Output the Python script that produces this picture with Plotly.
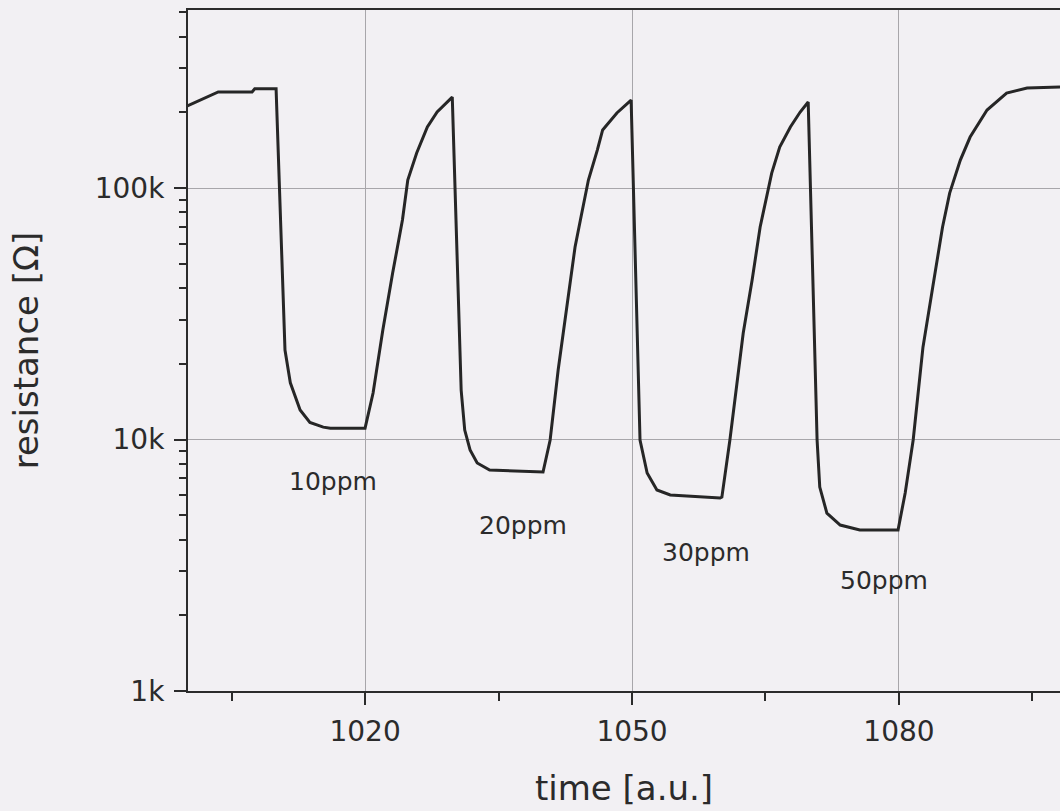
import math
import plotly.graph_objects as go

# time axis values [a.u.]
time = [1000.0, 1003.5, 1007.3, 1007.6, 1010.0,
        1011.0, 1011.6, 1012.7, 1013.8, 1015.3, 1016.1, 1020.0,
        1020.9, 1022.0, 1023.1, 1024.2, 1024.8, 1025.8, 1027.0, 1028.1, 1029.8,
        1030.8, 1031.2, 1031.8, 1032.6, 1034.0, 1040.0,
        1040.8, 1041.7, 1042.7, 1043.6, 1044.2, 1045.1, 1046.1, 1046.7, 1048.3, 1049.9,
        1050.9, 1051.7, 1052.8, 1054.3, 1059.9,
        1060.1, 1061.0, 1061.8, 1062.5, 1063.5, 1064.4, 1065.7, 1066.6, 1067.8, 1068.9, 1069.8,
        1070.8, 1071.1, 1071.9, 1073.4, 1075.6, 1079.9,
        1080.7, 1081.6, 1082.7, 1083.8, 1084.9, 1085.7, 1086.9, 1088.0, 1089.9, 1092.1, 1094.4, 1098.1]

# resistance values [Ohm]
resistance = [212000, 241000, 241000, 248000, 248000,
              22700, 16800, 13100, 11700, 11200, 11100, 11100,
              15300, 27300, 45900, 74600, 107600, 137800, 174900, 200600, 230000,
              15700, 10900, 9090, 8070, 7560, 7430,
              9960, 18900, 33600, 58300, 74600, 107600, 141600, 170200, 198800, 223900,
              9960, 7360, 6300, 6020, 5850,
              5900, 9960, 17200, 26500, 43100, 70000, 114700, 145600, 174900, 200600, 219800,
              9960, 6470, 5100, 4570, 4370, 4370,
              6130, 9960, 23300, 40400, 70000, 95500, 129200, 159500, 204200, 238700, 249900, 252200]

# concentration labels
labels = ["10ppm", "20ppm", "30ppm", "50ppm"]
label_time = [1016.4, 1037.7, 1058.3, 1078.3]
label_res = [6780, 4570, 3540, 2760]

# axis ticks
x_ticks = [1020, 1050, 1080]
x_minor = [1005, 1035, 1065, 1095]
y_ticks = [1e3, 1e4, 1e5]
y_ticktext = ["1k", "10k", "100k"]
y_minor = [m * 10 ** d for d in (3, 4, 5) for m in range(2, 10)]

FONT = "DejaVu Sans"
TXT = "#2b2b2b"
BG = "#f2f0f3"

fig = go.Figure()
fig.add_trace(go.Scatter(x=time, y=resistance, mode="lines",
                         line=dict(color="#262626", width=3),
                         showlegend=False, hoverinfo="skip"))

for lab, t, r in zip(labels, label_time, label_res):
    fig.add_annotation(x=t, y=math.log10(r), text=lab, showarrow=False,
                       font=dict(family=FONT, size=25, color=TXT),
                       xanchor="center", yanchor="middle")

fig.update_layout(
    width=1060, height=811,
    margin=dict(l=188, r=0, t=10, b=120),
    paper_bgcolor=BG, plot_bgcolor=BG,
    font=dict(family=FONT, color=TXT),
    xaxis=dict(
        range=[1000.1, 1098.1],
        tickmode="array", tickvals=x_ticks,
        ticks="outside", ticklen=12, tickwidth=2, tickcolor="#2b2b2b",
        tickfont=dict(family=FONT, size=28, color=TXT),
        ticklabelstandoff=2,
        minor=dict(tickmode="array", tickvals=x_minor, ticks="outside",
                   ticklen=8, tickwidth=2, tickcolor="#2b2b2b", showgrid=False),
        showgrid=True, gridcolor="#a8a6aa", gridwidth=1,
        showline=True, linecolor="#2b2b2b", linewidth=2, mirror=True,
        zeroline=False,
        title=dict(text="time [a.u.]", font=dict(family=FONT, size=34, color=TXT),
                   standoff=30),
    ),
    yaxis=dict(
        type="log", range=[3, 5.708],
        tickmode="array", tickvals=y_ticks, ticktext=y_ticktext,
        ticks="outside", ticklen=12, tickwidth=2, tickcolor="#2b2b2b",
        tickfont=dict(family=FONT, size=28, color=TXT),
        ticklabelstandoff=4,
        minor=dict(tickmode="array", tickvals=y_minor, ticks="outside",
                   ticklen=7, tickwidth=2, tickcolor="#2b2b2b", showgrid=False),
        showgrid=True, gridcolor="#a8a6aa", gridwidth=1,
        showline=True, linecolor="#2b2b2b", linewidth=2, mirror=False,
        zeroline=False,
        title=dict(text="resistance [Ω]", font=dict(family=FONT, size=34, color=TXT),
                   standoff=46),
    ),
)

fig.write_html(
    "out.html",
    config={"displayModeBar": False},
    post_script="document.body.style.margin='0';"
                "document.body.style.background='" + BG + "';"
                "document.body.style.overflow='hidden';",
)
